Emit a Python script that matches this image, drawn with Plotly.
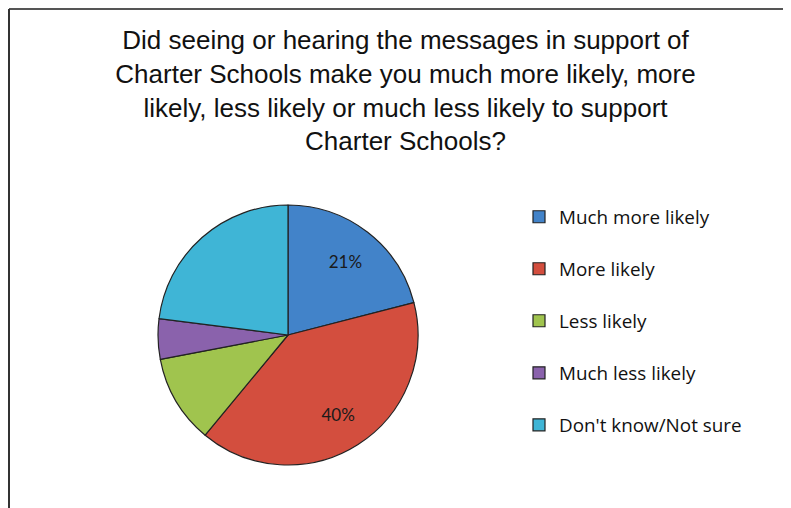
import plotly.graph_objects as go

categories = ["Much more likely", "More likely", "Less likely", "Much less likely", "Don't know/Not sure"]
values = [21, 40, 11, 5, 23]
show_label = [True, True, False, False, False]
colors = ["#4283c9", "#d34e3e", "#a0c44e", "#8a62ac", "#3fb5d6"]

title_text = ("Did seeing or hearing the messages in support of<br>"
              "Charter Schools make you much more likely, more<br>"
              "likely, less likely or much less likely to support<br>"
              "Charter Schools?")

W, H = 791, 508
OFF = 8  # the page body margin shifts the figure by 8px
texts = [f"{v}%" if s else "" for v, s in zip(values, show_label)]
legend_labels = [c + "<br> " for c in categories]

pie_domain = dict(x=[(158 - OFF) / W, (418 - OFF) / W],
                  y=[(H - (466 - OFF)) / H, (H - (204 - OFF)) / H])

fig = go.Figure()
# Main pie: colored slices and legend
fig.add_trace(go.Pie(
    labels=legend_labels,
    values=values,
    textinfo="none",
    sort=False,
    direction="clockwise",
    rotation=0,
    marker=dict(colors=colors, line=dict(color="#222222", width=1.2)),
    domain=pie_domain,
    hoverinfo="label+percent",
))
# Same data, ring layout, used only to place the percentage labels further out
fig.add_trace(go.Pie(
    labels=legend_labels,
    values=values,
    text=texts,
    textinfo="text",
    textposition="inside",
    insidetextorientation="horizontal",
    hole=0.44,
    sort=False,
    direction="clockwise",
    rotation=0,
    showlegend=False,
    marker=dict(colors=["rgba(0,0,0,0)"] * len(values), line=dict(width=0)),
    textfont=dict(family="Lato, Open Sans, sans-serif", size=17, color="#1a1a1a"),
    domain=pie_domain,
    hoverinfo="skip",
))

fig.update_layout(
    width=W, height=H,
    margin=dict(l=0, r=0, t=0, b=0),
    paper_bgcolor="white",
    plot_bgcolor="white",
    title=dict(
        text=title_text,
        x=(405.5 - OFF) / W, xanchor="center",
        y=1 - 41 / H, yanchor="top", yref="container",
        font=dict(family="Liberation Sans, Arial, sans-serif", size=26, color="#111111"),
    ),
    legend=dict(
        x=(519 - OFF) / W, xanchor="left",
        y=1 - (198 - OFF) / H, yanchor="top",
        valign="top",
        font=dict(family="Open Sans, Lato, sans-serif", size=18.85, color="#111111"),
        bgcolor="rgba(0,0,0,0)",
    ),
    shapes=[
        dict(type="line", xref="paper", yref="paper", x0=1 / W, x1=1, y0=1 - 1 / H, y1=1 - 1 / H,
             line=dict(color="#555555", width=2)),
        dict(type="line", xref="paper", yref="paper", x0=1 / W, x1=1 / W, y0=0, y1=1 - 1 / H,
             line=dict(color="#333333", width=2)),
    ],
)

fig.write_html("out.html")
